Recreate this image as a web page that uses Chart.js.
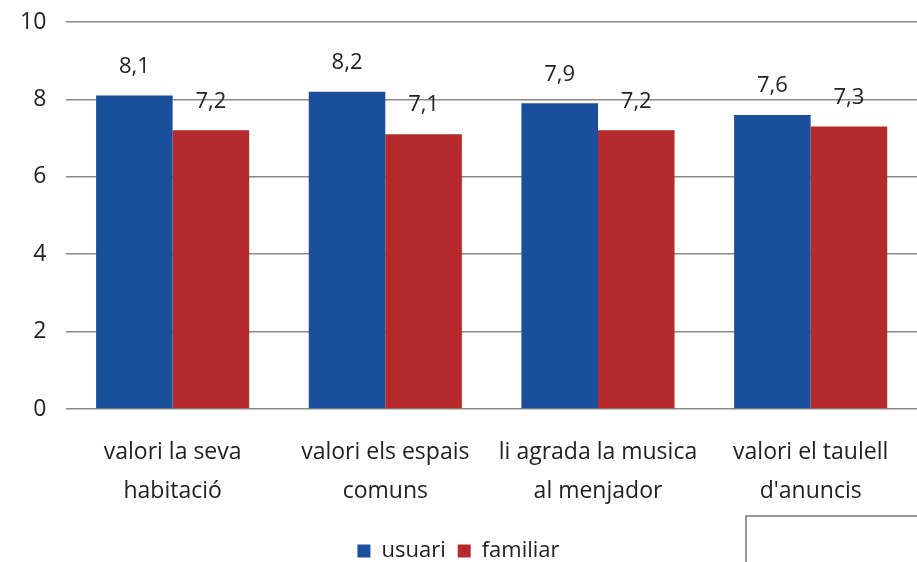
<!DOCTYPE html>
<html>
<head>
<meta charset="utf-8">
<script src="https://cdn.jsdelivr.net/npm/chart.js@4"></script>
<style>
  html, body { margin: 0; padding: 0; background: #fff; }
  #wrap { width: 917px; height: 562px; }
</style>
</head>
<body>
<div id="wrap"><canvas id="chart" width="917" height="562"></canvas></div>
<script>
const categories = [
  ['valori la seva', 'habitació'],
  ['valori els espais', 'comuns'],
  ['li agrada la musica', 'al menjador'],
  ['valori el taulell', "d'anuncis"]
];
const usuari = [8.1, 8.2, 7.9, 7.6];
const familiar = [7.2, 7.1, 7.2, 7.3];
const yTicks = [0, 2, 4, 6, 8, 10];

const FONT = "'Open Sans', 'Liberation Sans', sans-serif";

// value labels above each bar, decimal comma
const valueLabels = {
  id: 'valueLabels',
  afterDatasetsDraw(chart) {
    const ctx = chart.ctx;
    ctx.save();
    ctx.font = '22px ' + FONT;
    ctx.fillStyle = '#222';
    ctx.textAlign = 'center';
    ctx.textBaseline = 'middle';
    chart.data.datasets.forEach((ds, i) => {
      chart.getDatasetMeta(i).data.forEach((bar, j) => {
        ctx.fillText(ds.data[j].toFixed(1).replace('.', ','), bar.x, bar.y - 29);
      });
    });
    ctx.restore();
  }
};

// empty frame at bottom right of the scanned page
const cornerBox = {
  id: 'cornerBox',
  afterDraw(chart) {
    const ctx = chart.ctx;
    ctx.save();
    ctx.strokeStyle = '#777';
    ctx.lineWidth = 1.5;
    ctx.beginPath();
    ctx.moveTo(746, 562);
    ctx.lineTo(746, 516);
    ctx.lineTo(917, 516);
    ctx.stroke();
    ctx.restore();
  }
};

new Chart(document.getElementById('chart'), {
  type: 'bar',
  data: {
    labels: categories,
    datasets: [
      { label: 'usuari', data: usuari, backgroundColor: '#1a4f9c' },
      { label: 'familiar', data: familiar, backgroundColor: '#b72a2c' }
    ]
  },
  options: {
    responsive: false,
    animation: false,
    categoryPercentage: 0.72,
    barPercentage: 1.0,
    layout: { padding: { left: 0, right: 0, top: 22, bottom: -10 } },
    scales: {
      x: {
        grid: { display: false },
        border: { display: false },
        ticks: { color: '#222', font: { size: 23, family: FONT, lineHeight: 1.7 }, padding: 16, maxRotation: 0 },
        afterFit(axis) { axis.height = 119; }
      },
      y: {
        min: 0,
        max: 10,
        afterBuildTicks(axis) { axis.ticks = yTicks.map(v => ({ value: v })); },
        afterFit(axis) { axis.paddingTop = 0; },
        grid: { color: '#8a8a8a', lineWidth: 1.5, drawTicks: false },
        border: { display: false },
        ticks: { color: '#222', font: { size: 23, family: FONT }, padding: 20 }
      }
    },
    plugins: {
      legend: {
        position: 'bottom',
        labels: { color: '#222', font: { size: 22, family: FONT }, boxWidth: 13, boxHeight: 13, padding: 12 }
      },
      tooltip: { enabled: false }
    }
  },
  plugins: [valueLabels, cornerBox]
});
</script>
</body>
</html>
